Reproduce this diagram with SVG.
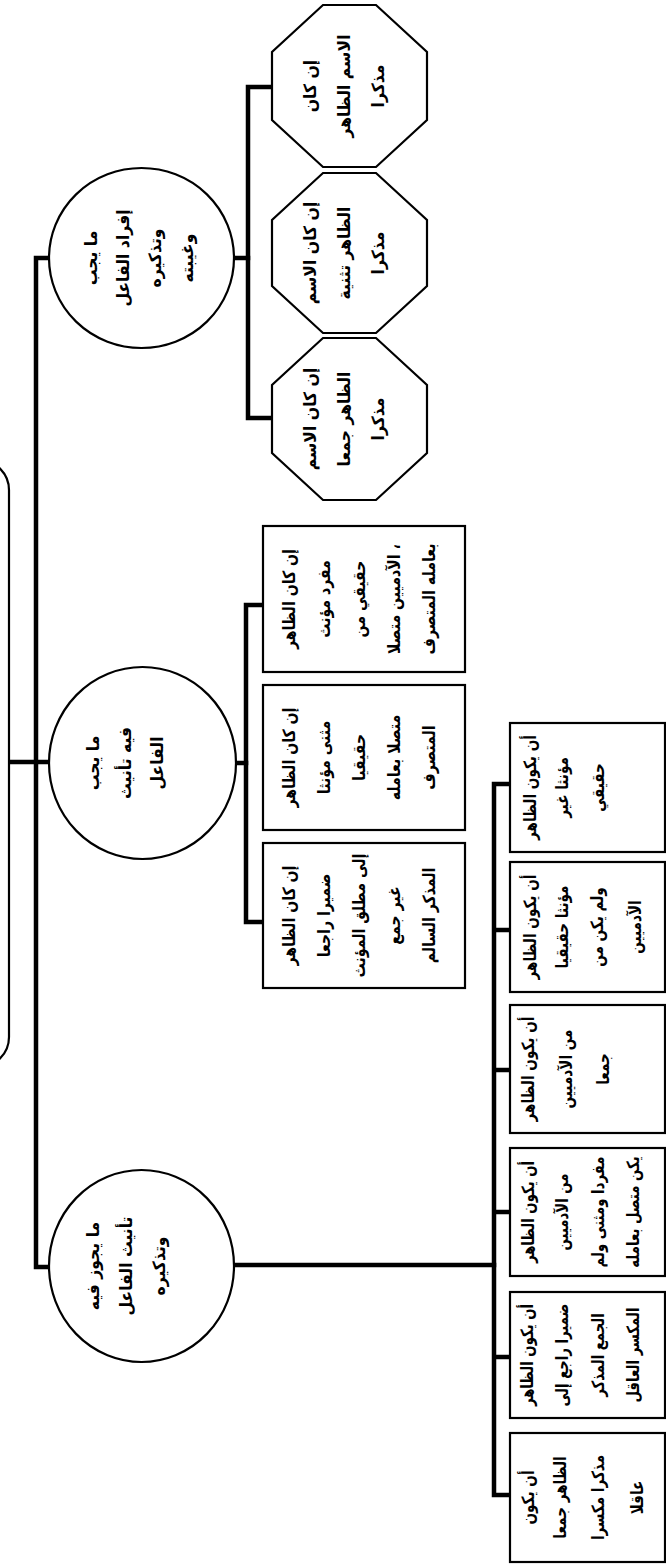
<svg xmlns="http://www.w3.org/2000/svg" width="666" height="1565" viewBox="0 0 666 1565">
<style>
.shape{fill:#fff;stroke:#000;stroke-width:2.2}
.conn{fill:none;stroke:#000;stroke-width:4.5;stroke-linecap:square;stroke-linejoin:miter}
text{font-family:"DejaVu Sans",sans-serif;font-weight:bold;font-size:17px;text-anchor:middle;fill:#000}
</style>
<rect x="0" y="0" width="666" height="1565" fill="#fff"/>
<g transform="translate(0,1565) rotate(-90)">
<g id="connectors">
<path class="conn" d="M803 9 V49"/>
<path class="conn" d="M1307 49 V36 H298 V49"/>
<path class="conn" d="M1307 234 V248"/>
<path class="conn" d="M1478 272 V248 H1147 V272"/>
<path class="conn" d="M802 236 V246"/>
<path class="conn" d="M960 263 V246 H643 V263"/>
<path class="conn" d="M300 234 V494"/>
<path class="conn" d="M781 510 V494 H70 V510 M635 494 V510 M495 494 V510 M353 494 V510 M208 494 V510"/>
</g>
<g id="root"><rect class="shape" x="498" y="-100" width="607" height="109" rx="30"/></g>
<g id="n-ifrad">
<ellipse class="shape" cx="1307" cy="141.5" rx="90" ry="92.5"/>
<text transform="translate(1307 0) scale(0.92 1)"><tspan x="0" y="97">ما يجب</tspan><tspan x="0" y="129">إفراد الفاعل</tspan><tspan x="0" y="161">وتذكيره</tspan><tspan x="0" y="193">وغيبته</tspan></text>
</g>
<g id="n-tanith-wajib">
<ellipse class="shape" cx="802" cy="142.5" rx="96" ry="93.5"/>
<text transform="translate(802 0) scale(0.92 1)"><tspan x="0" y="99">ما يجب</tspan><tspan x="0" y="131">فيه تأنيث</tspan><tspan x="0" y="163">الفاعل</tspan></text>
</g>
<g id="n-jawaz">
<ellipse class="shape" cx="299" cy="141.5" rx="96" ry="92.5"/>
<text transform="translate(299 0) scale(0.92 1)"><tspan x="0" y="99">ما يجوز فيه</tspan><tspan x="0" y="132">تأنيث الفاعل</tspan><tspan x="0" y="165">وتذكيره</tspan></text>
</g>
<g id="oct1">
<polygon class="shape" points="1445,272 1513,272 1560,323 1560,376 1513,427 1445,427 1398,376 1398,323"/>
<text transform="translate(1479 0) scale(0.92 1)"><tspan x="0" y="316">إن كان</tspan><tspan x="0" y="350">الاسم الظاهر</tspan><tspan x="0" y="384">مذكرا</tspan></text>
</g>
<g id="oct2">
<polygon class="shape" points="1279,272 1345,272 1392,323 1392,376 1345,427 1279,427 1232,376 1232,323"/>
<text transform="translate(1312 0) scale(0.92 1)"><tspan x="0" y="316">إن كان الاسم</tspan><tspan x="0" y="350">الظاهر تثنية</tspan><tspan x="0" y="384">مذكرا</tspan></text>
</g>
<g id="oct3">
<polygon class="shape" points="1112,272 1180,272 1227,323 1227,376 1180,427 1112,427 1065,376 1065,323"/>
<text transform="translate(1146 0) scale(0.92 1)"><tspan x="0" y="316">إن كان الاسم</tspan><tspan x="0" y="350">الظاهر جمعا</tspan><tspan x="0" y="384">مذكرا</tspan></text>
</g>
<g id="ra">
<rect class="shape" x="893" y="263" width="146" height="202"/>
<text transform="translate(966 0) scale(0.83 1)"><tspan x="0" y="295">إن كان الظاهر</tspan><tspan x="0" y="330">مفرد مؤنث</tspan><tspan x="0" y="365">حقيقي من</tspan><tspan x="0" y="400">الآدميين متصلا ،</tspan><tspan x="0" y="435">بعامله المتصرف</tspan></text>
</g>
<g id="rb">
<rect class="shape" x="735" y="263" width="145" height="202"/>
<text transform="translate(807.5 0) scale(0.83 1)"><tspan x="0" y="295">إن كان الظاهر</tspan><tspan x="0" y="330">مثنى مؤنثا</tspan><tspan x="0" y="365">حقيقيا</tspan><tspan x="0" y="400">متصلا بعامله</tspan><tspan x="0" y="435">المتصرف</tspan></text>
</g>
<g id="rc">
<rect class="shape" x="577" y="263" width="145" height="202"/>
<text transform="translate(649.5 0) scale(0.83 1)"><tspan x="0" y="295">إن كان الظاهر</tspan><tspan x="0" y="330">ضميرا راجعا</tspan><tspan x="0" y="365">إلى مطلق المؤنث</tspan><tspan x="0" y="400">غير جمع</tspan><tspan x="0" y="435">المذكر السالم</tspan></text>
</g>
<g id="l1">
<rect class="shape" x="713" y="510" width="129" height="155"/>
<text transform="translate(777.5 0) scale(0.8 1)"><tspan x="0" y="536">أن يكون الظاهر</tspan><tspan x="0" y="568">مؤنثا غير</tspan><tspan x="0" y="604">حقيقي</tspan></text>
</g>
<g id="l2">
<rect class="shape" x="573" y="510" width="130" height="155"/>
<text transform="translate(638 0) scale(0.8 1)"><tspan x="0" y="536">أن يكون الظاهر</tspan><tspan x="0" y="568">مؤنثا حقيقيا</tspan><tspan x="0" y="603">ولم يكن من</tspan><tspan x="0" y="641">الآدميين</tspan></text>
</g>
<g id="l3">
<rect class="shape" x="432" y="510" width="128" height="155"/>
<text transform="translate(496 0) scale(0.8 1)"><tspan x="0" y="534">أن يكون الظاهر</tspan><tspan x="0" y="572">من الآدميين</tspan><tspan x="0" y="609">جمعا</tspan></text>
</g>
<g id="l4">
<rect class="shape" x="289" y="510" width="128" height="155"/>
<text transform="translate(353 0) scale(0.78 1)"><tspan x="0" y="534">أن يكون الظاهر</tspan><tspan x="0" y="568">من الآدميين</tspan><tspan x="0" y="604">مفردا ومثنى ولم</tspan><tspan x="0" y="639">يكن متصل بعامله</tspan></text>
</g>
<g id="l5">
<rect class="shape" x="147" y="510" width="126" height="155"/>
<text transform="translate(210 0) scale(0.78 1)"><tspan x="0" y="533">أن يكون الظاهر</tspan><tspan x="0" y="568">ضميرا راجع إلى</tspan><tspan x="0" y="604">الجمع المذكر</tspan><tspan x="0" y="639">المكسر العاقل</tspan></text>
</g>
<g id="l6">
<rect class="shape" x="3" y="510" width="129" height="155"/>
<text transform="translate(67.5 0) scale(0.8 1)"><tspan x="0" y="534">أن يكون</tspan><tspan x="0" y="566">الظاهر جمعا</tspan><tspan x="0" y="604">مذكرا مكسرا</tspan><tspan x="0" y="643">عاقلا</tspan></text>
</g>
</g>
</svg>
